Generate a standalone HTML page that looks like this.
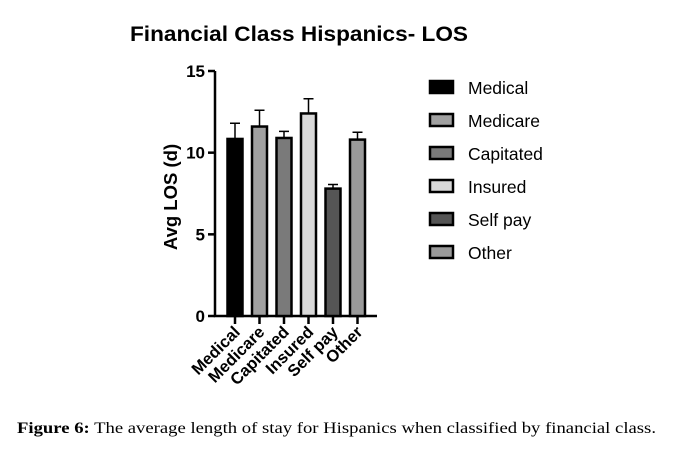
<!DOCTYPE html>
<html><head><meta charset="utf-8"><style>
body{margin:0;background:#fff;width:683px;height:450px;overflow:hidden;font-family:"Liberation Sans",sans-serif}
</style></head><body>
<svg width="683" height="450" id="svg">
<text x="299" y="41" text-anchor="middle" font-size="21" font-weight="bold" textLength="338" lengthAdjust="spacingAndGlyphs">Financial Class Hispanics- LOS</text>
<text transform="translate(177,197) rotate(-90)" text-anchor="middle" font-size="18.5" font-weight="bold">Avg LOS (d)</text>
<text x="17" y="433" font-family="Liberation Serif,serif" font-size="16" textLength="639" lengthAdjust="spacingAndGlyphs"><tspan font-weight="bold">Figure 6:</tspan> The average length of stay for Hispanics when classified by financial class.</text>
<g id="g"></g>
</svg>
<script>
const categories=["Medical","Medicare","Capitated","Insured","Self pay","Other"];
const means=[10.84,11.6,10.9,12.4,7.8,10.8];
const errors=[0.96,1.0,0.4,0.9,0.25,0.45];
const yTicks=[0,5,10,15];
const colors=["#000","#a0a0a0","#7a7a7a","#d8d8d8","#555","#9a9a9a"];
const ns="http://www.w3.org/2000/svg",g=document.getElementById('g');
const y=v=>316-v*245/15, x=i=>235+i*24.5;
function mk(t,a,p){const e=document.createElementNS(ns,t);for(const k in a)e.setAttribute(k,a[k]);(p||g).appendChild(e);return e;}
let ax=mk('path',{d:`M215,${y(15)}V316H377`,stroke:'#000','stroke-width':2.5,fill:'none'});


yTicks.forEach(v=>{
 let t=mk('line',{x1:208,x2:215,y1:y(v),y2:y(v),stroke:'#000','stroke-width':2.5});
 
 
 let l=mk('text',{x:205,y:y(v)+6,'text-anchor':'end','font-size':17,'font-weight':'bold'});l.textContent=v;
 
 
});
categories.forEach((c,i)=>{
 let e=mk('path',{d:`M${x(i)},${y(means[i])}V${y(means[i]+errors[i])}M${x(i)-5},${y(means[i]+errors[i])}H${x(i)+5}`,stroke:'#000','stroke-width':1.5,fill:'none'});
 
 
 let b=mk('rect',{x:x(i)-7.5,y:y(means[i]),width:15,height:316-y(means[i]),fill:colors[i],stroke:'#000','stroke-width':2.5});
 
 
 let t=mk('line',{x1:x(i),x2:x(i),y1:316,y2:324,stroke:'#000','stroke-width':2.5});
 
 
 let l=mk('text',{transform:`translate(${x(i)+6},333) rotate(-45)`,'text-anchor':'end','font-size':16.5,'font-weight':'bold'});l.textContent=c;
 
 
 let s=mk('rect',{x:430,y:81+i*33,width:23,height:12,fill:colors[i],stroke:'#000','stroke-width':2.5});
 
 
 let lt=mk('text',{x:468,y:94+i*33,'font-size':17.5});lt.textContent=c;
 
 
});
</script>
</body></html>
